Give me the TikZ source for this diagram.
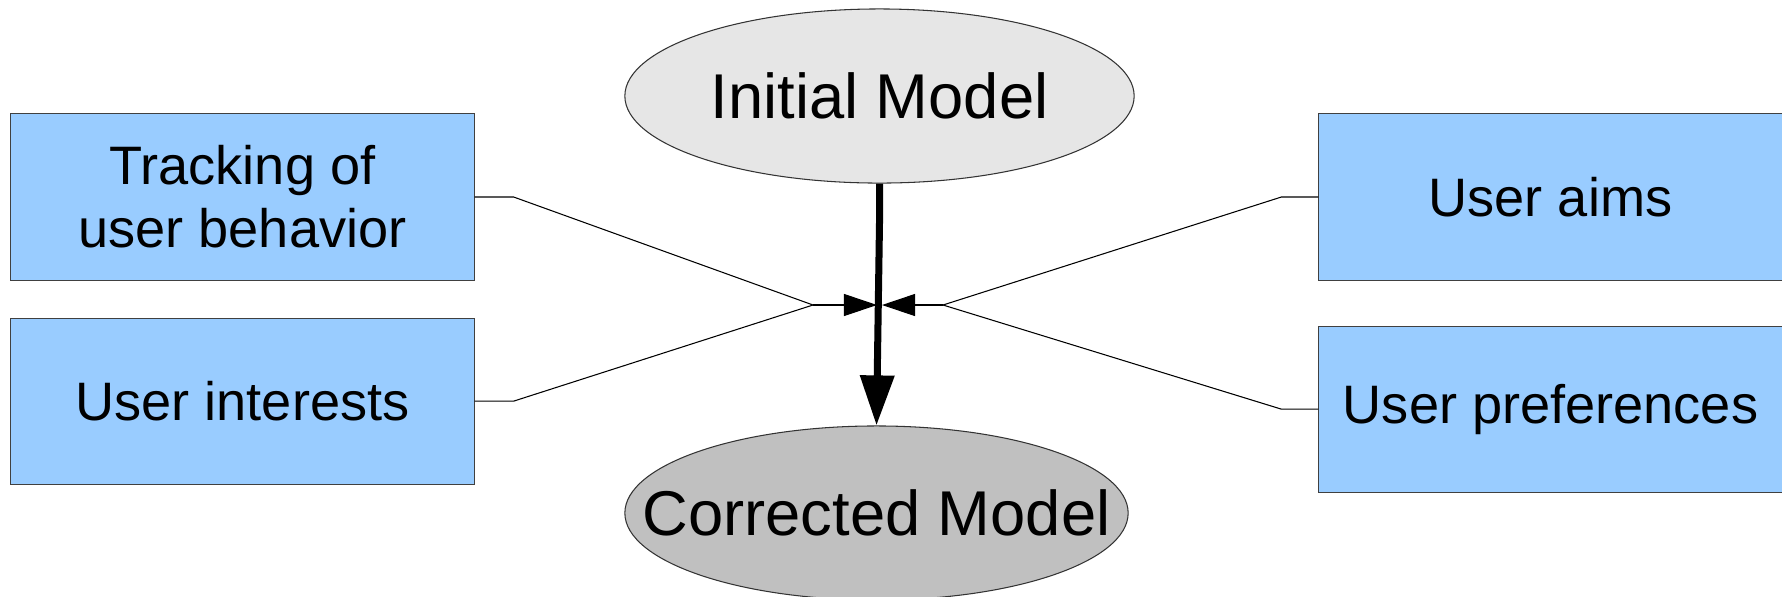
\documentclass[tikz,border=0pt]{standalone}
\usepackage{fontspec}
\setmainfont{Liberation Sans}
\usepackage{xcolor}
\usetikzlibrary{arrows.meta}
\usetikzlibrary{shapes.geometric}
\definecolor{boxblue}{HTML}{99CCFF}
\definecolor{initgray}{HTML}{E6E6E6}
\definecolor{corrgray}{HTML}{C0C0C0}

\begin{document}
\begin{tikzpicture}[
    x=0.01cm,
    y=-0.01cm,
    box_style/.style={
        rectangle,
        draw=black!75,
        line width=0.3pt,
        fill=boxblue,
        minimum width=4.63cm,
        minimum height=1.66cm,
        inner sep=0pt,
        align=center,
        font=\fontsize{15.4}{17.9}\selectfont
        },
    model_style/.style={
        ellipse,
        draw=black!80,
        line width=0.3pt,
        inner sep=0pt,
        minimum height=1.74cm,
        font=\fontsize{18}{20}\selectfont
        },
    thin_style/.style={
        draw=black,
        line width=0.3pt
        },
    small_arrow/.style={
        thin_style,
        -{Triangle[length=0.33cm, width=0.22cm]}
        },
    main_arrow/.style={
        draw=black,
        line width=0.07cm,
        -{Triangle[length=0.5cm, width=0.33cm]}
        }]

    \useasboundingbox (0,0) rectangle (1782,596);

    % inputs on the left
    \node[box_style](track) at (242.5,197) {Tracking of\\user behavior};
    \node[box_style, below of=track, node distance=2.04cm](interests) {User interests};

    % inputs on the right
    \node[box_style](aims) at (1550.5,197) {User aims};
    \node[box_style, below of=aims, node distance=2.12cm](prefs) {User preferences};

    % models
    \node[model_style, fill=initgray, minimum width=5.09cm](init) at (879.5,96) {\makebox[0pt]{Initial Model}};
    \node[model_style, fill=corrgray, minimum width=5.03cm](corr) at (876.5,513) {\makebox[0pt]{Corrected Model}};

    \coordinate (jl) at (813,305);
    \coordinate (jr) at (943,305);
    \coordinate (hl) at (877,305);
    \coordinate (hr) at (882,305);

    \draw[thin_style] (track.east) -- ++(39,0) -- (jl);
    \draw[thin_style] (interests.east) -- ++(39,0) -- (jl);
    \draw[thin_style] (aims.west) -- ++(-37,0) -- (jr);
    \draw[thin_style] (prefs.west) -- ++(-37,0) -- (jr);
    \draw[small_arrow] (jl) -- (hl);
    \draw[small_arrow] (jr) -- (hr);

    \draw[main_arrow] (init.south) -- ++(0,39) coordinate (kink) -- (corr.north);
\end{tikzpicture}
\end{document}
